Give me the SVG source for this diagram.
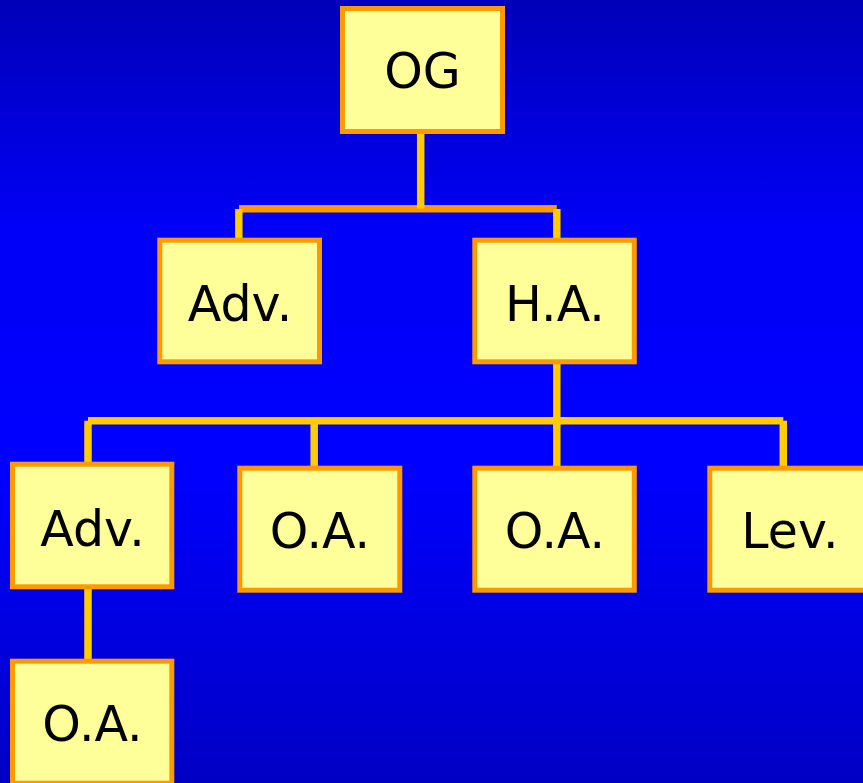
<svg xmlns="http://www.w3.org/2000/svg" width="863" height="783" viewBox="0 0 863 783">
  <defs>
    <linearGradient id="bg" x1="0" y1="0" x2="0" y2="1">
      <stop offset="0" stop-color="#0000B8"/>
      <stop offset="0.3" stop-color="#0000F8"/>
      <stop offset="0.6" stop-color="#0000FF"/>
      <stop offset="1" stop-color="#0000C4"/>
    </linearGradient>
  </defs>
  <style>
    .box { fill: #FFFF99; stroke: #FF9900; stroke-width: 5; }
    .lbl { font-family: "DejaVu Sans", Verdana, sans-serif; font-size: 49px; fill: #000000; text-anchor: middle; }
    .bus { stroke: #FF9900; stroke-width: 7.5; fill: none; }
    .link { stroke: #FFCC00; stroke-width: 7.5; fill: none; }
  </style>

  <rect x="0" y="0" width="863" height="783" fill="url(#bg)"/>

  <!-- connectors -->
  <g id="connectors">
    <line class="bus" x1="239" y1="208.8" x2="556.8" y2="208.8"/>
    <line class="link" x1="420.7" y1="132" x2="420.7" y2="208.5"/>
    <line class="link" x1="238.8" y1="209" x2="238.8" y2="239"/>
    <line class="link" x1="556.8" y1="209" x2="556.8" y2="239"/>
    <line class="link" x1="88" y1="420.7" x2="783.3" y2="420.7"/>
    <line class="link" x1="556.8" y1="362" x2="556.8" y2="467"/>
    <line class="link" x1="88" y1="420.7" x2="88" y2="463"/>
    <line class="link" x1="314.2" y1="420.7" x2="314.2" y2="467"/>
    <line class="link" x1="783.3" y1="420.7" x2="783.3" y2="467"/>
    <line class="link" x1="88" y1="588" x2="88" y2="660"/>
  </g>

  <g id="og">
    <rect class="box" x="342.5" y="8.5" width="160" height="123"/>
    <text class="lbl" x="422.5" y="88">OG</text>
  </g>
  <g id="adv1">
    <rect class="box" x="159.8" y="240.2" width="159.7" height="121.6"/>
    <text class="lbl" x="240" y="320.5">Adv.</text>
  </g>
  <g id="ha">
    <rect class="box" x="474.8" y="240.2" width="159.5" height="121.6"/>
    <text class="lbl" x="555" y="320.5">H.A.</text>
  </g>
  <g id="adv2">
    <rect class="box" x="12.5" y="464.2" width="159.3" height="122.6"/>
    <text class="lbl" x="92.5" y="545.5">Adv.</text>
  </g>
  <g id="oa1">
    <rect class="box" x="239.8" y="468.2" width="160" height="122"/>
    <text class="lbl" x="320" y="548">O.A.</text>
  </g>
  <g id="oa2">
    <rect class="box" x="474.8" y="468.2" width="159.5" height="122"/>
    <text class="lbl" x="555" y="548">O.A.</text>
  </g>
  <g id="lev">
    <rect class="box" x="709.8" y="468.2" width="160" height="122"/>
    <text class="lbl" x="790" y="548">Lev.</text>
  </g>
  <g id="oa3">
    <rect class="box" x="12.5" y="661.2" width="159.3" height="122"/>
    <text class="lbl" x="92.5" y="741">O.A.</text>
  </g>
</svg>
